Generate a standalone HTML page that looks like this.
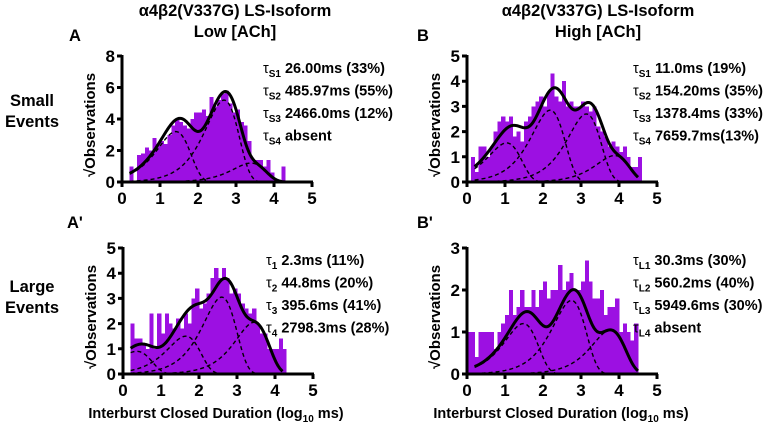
<!DOCTYPE html>
<html><head><meta charset="utf-8"><style>
body{margin:0;background:#fff;}
svg{display:block;font-family:"Liberation Sans",Arial,sans-serif;font-weight:bold;}
</style></head><body>
<svg id="fig" width="783" height="423" viewBox="0 0 783 423">
<g font-size="16.5" text-anchor="middle">
<text x="235" y="16">α4β2(V337G) LS-Isoform</text>
<text x="235" y="37">Low [ACh]</text>
<text x="598" y="16">α4β2(V337G) LS-Isoform</text>
<text x="598" y="37">High [ACh]</text>
</g>
<g font-size="16.5">
<text x="69" y="41">A</text>
<text x="417" y="41">B</text>
<text x="67" y="228">A'</text>
<text x="417" y="228">B'</text>
</g>
<g font-size="16.5" text-anchor="middle">
<text x="32" y="106">Small</text>
<text x="32" y="127">Events</text>
<text x="32" y="292">Large</text>
<text x="32" y="313">Events</text>
</g>
<g font-size="14.5" text-anchor="middle">
<text x="216" y="418">Interburst Closed Duration (log<tspan font-size="10" dy="4">10</tspan><tspan dy="-4"> ms)</tspan></text>
<text x="561" y="418">Interburst Closed Duration (log<tspan font-size="10" dy="4">10</tspan><tspan dy="-4"> ms)</tspan></text>
</g>
</svg>
<script>
// ---- data ----
const startA = 0.2;
const valsA = [1,0,1.7,1.8,2.2,2.0,2.8,2.4,2.6,2.4,3.0,3.6,4.0,3.8,3.6,3.4,4.0,4.4,4.4,4.6,4.2,5.4,4.8,5.2,5.6,5.8,5.0,4.4,4.6,3.8,3.6,2.6,1.4,1.4,1.4,1.0,1.4,0.6,0,0,1.0];
const tauA = [26.0, 485.97, 2466.0];
const peakA = [3.2, 5.2, 1.2];
const labelsA = [["S1","26.00ms (33%)"],["S2","485.97ms (55%)"],["S3","2466.0ms (12%)"],["S4","absent"]];
const yTicksA = [0,2,4,6,8];

const startB = 0.1;
const valsB = [1.0,0.4,1.4,1.4,1.0,1.4,2.0,2.4,2.6,2.4,2.6,1.8,2.0,1.6,2.4,2.6,3.0,3.2,3.4,3.0,3.6,4.3,3.4,3.2,4.0,3.0,3.2,3.0,3.0,3.2,3.0,2.8,3.0,2.2,2.0,1.8,1.4,1.6,1.4,1.2,1.4,1.0,0.6,0.6,1.0];
const tauB = [11.0, 154.2, 1378.4, 7659.7];
const peakB = [1.55, 2.85, 2.7, 1.05];
const labelsB = [["S1","11.0ms (19%)"],["S2","154.20ms (35%)"],["S3","1378.4ms (33%)"],["S4","7659.7ms(13%)"]];
const yTicksB = [0,1,2,3,4,5];

const startC = 0.2;
const valsC = [2.0,1.4,1.4,1.2,1.0,2.4,1.0,2.4,1.6,2.4,2.0,1.8,2.2,1.8,2.4,2.0,3.0,3.4,2.6,2.8,3.2,3.8,4.2,3.8,4.2,3.8,3.2,3.4,3.2,2.8,2.6,2.4,2.6,2.0,1.6,1.6,1.0,1.0,1.0,1.4,1.0];
const tauC = [2.3, 44.8, 395.6, 2798.3];
const peakC = [0.9, 1.5, 3.05, 2.05];
const labelsC = [["1","2.3ms (11%)"],["2","44.8ms (20%)"],["3","395.6ms (41%)"],["4","2798.3ms (28%)"]];
const yTicksC = [0,1,2,3,4,5];

const startD = 0.0;
const valsD = [1.0,1.0,0.4,1.0,1.0,1.0,1.0,0.6,1.0,1.2,1.4,2.0,1.4,1.6,2.0,1.6,1.6,2.0,1.6,2.0,2.2,1.8,2.0,2.0,2.6,2.0,2.2,2.4,2.0,2.0,2.2,2.7,2.2,1.8,1.8,2.0,1.4,1.6,1.6,1.8,1.0,1.2,1.0,0.8,1.2];
const tauD = [30.3, 560.2, 5949.6];
const peakD = [1.2, 1.75, 1.05];
const labelsD = [["L1","30.3ms (30%)"],["L2","560.2ms (40%)"],["L3","5949.6ms (30%)"],["L4","absent"]];
const yTicksD = [0,1,2,3];

const xTicks = [0,1,2,3,4,5];
const binW = 0.1;

// ---- drawing ----
const NS = "http://www.w3.org/2000/svg";
const svg = document.getElementById("fig");
function mk(tag, parent){ const e = document.createElementNS(NS, tag); parent.appendChild(e); return e; }
function comp(x, tau, peak){ const z = Math.pow(10, x - Math.log10(tau)); return peak * z * Math.exp(1 - z); }

function panel(id, ox, oy, ymax, start, vals, taus, peaks, labels, yTicks, xEnd, yLabel, labX){
  const W = 190, H = 126;
  const sx = v => ox + v / 5 * W;
  const sy = v => oy - v / ymax * H;
  const g = mk("g", svg);
  
  
  vals.forEach((v, i) => {
    const x0 = start + i * binW;
    const r = mk("rect", g);
    
    
    r.setAttribute("x", sx(x0)); r.setAttribute("width", sx(x0 + binW) - sx(x0) + 0.3);
    r.setAttribute("y", sy(v)); r.setAttribute("height", oy - sy(v));
    r.setAttribute("fill", "#9c10e2");
    r.setAttribute("shape-rendering", "crispEdges");
  });
  taus.forEach((t, k) => {
    let d = "";
    for (let x = 0.2; x <= xEnd + 1e-9; x += 0.02) d += (d ? "L" : "M") + sx(x).toFixed(2) + "," + sy(comp(x, t, peaks[k])).toFixed(2);
    const p = mk("path", g);
    
    
    p.setAttribute("d", d); p.setAttribute("fill", "none"); p.setAttribute("stroke", "#000");
    p.setAttribute("stroke-width", "1.4"); p.setAttribute("stroke-dasharray", "4,3");
  });
  let d = "";
  for (let x = 0.2; x <= xEnd + 1e-9; x += 0.02) {
    let s = 0; taus.forEach((t, k) => s += comp(x, t, peaks[k]));
    d += (d ? "L" : "M") + sx(x).toFixed(2) + "," + sy(s).toFixed(2);
  }
  const tp = mk("path", g);
  
  
  tp.setAttribute("d", d); tp.setAttribute("fill", "none"); tp.setAttribute("stroke", "#000"); tp.setAttribute("stroke-width", "3");
  const ax = mk("path", g);
  
  
  let ad = `M${ox},${sy(ymax)-1}L${ox},${oy}L${sx(5)+1},${oy}`;
  xTicks.forEach(t => ad += `M${sx(t)},${oy}L${sx(t)},${oy+5}`);
  yTicks.forEach(t => ad += `M${ox},${sy(t)}L${ox-5},${sy(t)}`);
  ax.setAttribute("d", ad); ax.setAttribute("stroke", "#000"); ax.setAttribute("stroke-width", "3"); ax.setAttribute("fill", "none");
  xTicks.forEach(t => {
    const tx = mk("text", g);
    
    
    tx.setAttribute("x", sx(t)); tx.setAttribute("y", oy + 22); tx.setAttribute("text-anchor", "middle"); tx.setAttribute("font-size", "17");
    tx.textContent = t;
  });
  yTicks.forEach(t => {
    const tx = mk("text", g);
    
    
    tx.setAttribute("x", ox - 7); tx.setAttribute("y", sy(t) + 6); tx.setAttribute("text-anchor", "end"); tx.setAttribute("font-size", "17");
    tx.textContent = t;
  });
  const yl = mk("text", g);
  
  
  yl.setAttribute("transform", `translate(${ox-27},${oy-H/2+6}) rotate(-90)`);
  yl.setAttribute("text-anchor", "middle"); yl.setAttribute("font-size", "15");
  yl.textContent = yLabel;
  labels.forEach((l, i) => {
    const tx = mk("text", g);
    
    
    tx.setAttribute("x", labX); tx.setAttribute("y", oy - 109 + i * 22.5); tx.setAttribute("font-size", "14.5");
    const a = mk("tspan", tx); a.setAttribute("font-weight", "normal"); a.textContent = "τ";
    const b = mk("tspan", tx); b.setAttribute("font-size", "10"); b.setAttribute("dy", "4"); b.textContent = l[0];
    const c = mk("tspan", tx); c.setAttribute("dy", "-4"); c.textContent = " " + l[1];
  });
}
panel("panel-a-small-low", 122, 182, 8, startA, valsA, tauA, peakA, labelsA, yTicksA, 4.3, "√Observations", 263);
panel("panel-b-small-high", 467, 182, 5, startB, valsB, tauB, peakB, labelsB, yTicksB, 4.5, "√Observations", 633);
panel("panel-a-prime-large-low", 123, 374, 5, startC, valsC, tauC, peakC, labelsC, yTicksC, 4.2, "√Observations", 266);
panel("panel-b-prime-large-high", 467, 374, 3, startD, valsD, tauD, peakD, labelsD, yTicksD, 4.5, "√Observations", 633);
</script>
</body></html>
